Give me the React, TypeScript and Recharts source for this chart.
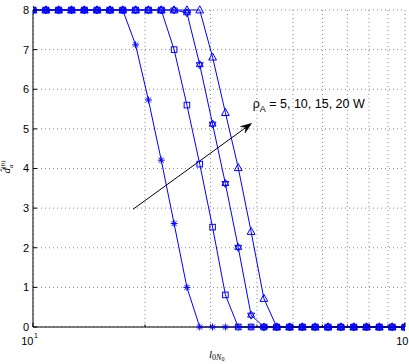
import React from 'react';
import { LineChart, Line, XAxis, YAxis, CartesianGrid, ReferenceLine } from 'recharts';

// x positions: 30 log-spaced points from 10 to 100
const xValues = [
  10, 10.83, 11.72, 12.69, 13.74, 14.87, 16.1, 17.43, 18.87, 20.43,
  22.12, 23.95, 25.93, 28.07, 30.39, 32.9, 35.62, 38.57, 41.75, 45.2,
  48.94, 52.98, 57.36, 62.1, 67.23, 72.79, 78.8, 85.32, 92.37, 100,
];

// rho_A = 5 W (asterisk)
const rho5 = [
  8, 8, 8, 8, 8, 8, 8, 8, 7.12, 5.73,
  4.21, 2.61, 1.0, 0, 0, 0, 0, 0, 0, 0,
  0, 0, 0, 0, 0, 0, 0, 0, 0, 0,
];
// rho_A = 10 W (square)
const rho10 = [
  8, 8, 8, 8, 8, 8, 8, 8, 8, 8,
  8, 7.0, 5.6, 4.11, 2.52, 0.81, 0, 0, 0, 0,
  0, 0, 0, 0, 0, 0, 0, 0, 0, 0,
];
// rho_A = 15 W (hexagram)
const rho15 = [
  8, 8, 8, 8, 8, 8, 8, 8, 8, 8,
  8, 8, 7.93, 6.62, 5.12, 3.62, 2.01, 0.3, 0, 0,
  0, 0, 0, 0, 0, 0, 0, 0, 0, 0,
];
// rho_A = 20 W (triangle)
const rho20 = [
  8, 8, 8, 8, 8, 8, 8, 8, 8, 8,
  8, 8, 8, 8, 6.81, 5.41, 4.02, 2.41, 0.72, 0,
  0, 0, 0, 0, 0, 0, 0, 0, 0, 0,
];

const xTicks = [10, 20, 30, 40, 50, 60, 70, 80, 90, 100];
const yTicks = [0, 1, 2, 3, 4, 5, 6, 7, 8];

// arrow annotation, in data units
const arrowFrom = { x: 18.57, y: 2.97 };
const arrowTo = { x: 38.7, y: 5.14 };

const rows = xValues.map((x, i) => ({
  x,
  rho5: rho5[i],
  rho10: rho10[i],
  rho15: rho15[i],
  rho20: rho20[i],
}));

const BLUE = '#0000ff';
const FONT = '"Liberation Sans", Arial, Helvetica, sans-serif';
const SERIF = '"Liberation Serif", "DejaVu Serif", serif';

const AsteriskDot = (p: any) => {
  const { cx, cy, index } = p;
  const r = 3.5;
  const d = 2.5;
  return (
    <path
      key={`a${index}`}
      d={`M${cx - r},${cy}h${2 * r}M${cx},${cy - r}v${2 * r}M${cx - d},${cy - d}l${2 * d},${2 * d}M${cx - d},${cy + d}l${2 * d},${-2 * d}`}
      stroke={BLUE}
      strokeWidth={1}
      fill="none"
    />
  );
};

const SquareDot = (p: any) => {
  const { cx, cy, index } = p;
  const s = 2.8;
  return <rect key={`s${index}`} x={cx - s} y={cy - s} width={2 * s} height={2 * s} stroke={BLUE} strokeWidth={1} fill="none" />;
};

const HexagramDot = (p: any) => {
  const { cx, cy, index } = p;
  const r = 4;
  const h = r * 0.866;
  const up = `${cx},${cy - r} ${cx + h},${cy + r / 2} ${cx - h},${cy + r / 2}`;
  const down = `${cx},${cy + r} ${cx + h},${cy - r / 2} ${cx - h},${cy - r / 2}`;
  return (
    <g key={`h${index}`}>
      <polygon points={up} stroke={BLUE} strokeWidth={1} fill="none" />
      <polygon points={down} stroke={BLUE} strokeWidth={1} fill="none" />
    </g>
  );
};

const TriangleDot = (p: any) => {
  const { cx, cy, index } = p;
  const pts = `${cx},${cy - 4.2} ${cx + 3.9},${cy + 2.9} ${cx - 3.9},${cy + 2.9}`;
  return <polygon key={`t${index}`} points={pts} stroke={BLUE} strokeWidth={1} fill="none" />;
};

// bottom axis: inward ticks, labels only at decades
const BottomTick = (p: any) => {
  const { x, y, payload } = p;
  const v = payload.value;
  const major = v === 10 || v === 100;
  const shift = v === 100 ? 3.5 : 0.5;
  return (
    <g>
      <line x1={x} y1={y} x2={x} y2={y - (major ? 4 : 2.5)} stroke="#000" />
      {major && (
        <text x={x + shift} y={y + 18} textAnchor="end" fontFamily={FONT} fontSize={11} fill="#000">
          10
        </text>
      )}
      {major && (
        <text x={x + shift + 0.5} y={y + 11} fontFamily={FONT} fontSize={7} fill="#000">
          {v === 10 ? '1' : '2'}
        </text>
      )}
    </g>
  );
};

const TopTick = (p: any) => {
  const { x, y, payload } = p;
  const major = payload.value === 10 || payload.value === 100;
  return <line x1={x} y1={y} x2={x} y2={y + (major ? 4 : 2.5)} stroke="#000" />;
};

const LeftTick = (p: any) => {
  const { x, y, payload } = p;
  return (
    <g>
      <line x1={x} y1={y} x2={x + 4} y2={y} stroke="#000" />
      <text x={x - 4} y={y} dy="0.36em" textAnchor="end" fontFamily={FONT} fontSize={11} fill="#000">
        {payload.value}
      </text>
    </g>
  );
};

const RightTick = (p: any) => {
  const { x, y } = p;
  return <line x1={x} y1={y} x2={x - 4} y2={y} stroke="#000" />;
};

const ArrowShape = (p: any) => {
  const { x1, y1, x2, y2 } = p;
  const len = Math.hypot(x2 - x1, y2 - y1);
  const ux = (x2 - x1) / len;
  const uy = (y2 - y1) / len;
  const nx = -uy;
  const ny = ux;
  const L = 11;
  const W = 4;
  const head = [
    [x2, y2],
    [x2 - L * ux + W * nx, y2 - L * uy + W * ny],
    [x2 - 0.65 * L * ux, y2 - 0.65 * L * uy],
    [x2 - L * ux - W * nx, y2 - L * uy - W * ny],
  ]
    .map((q) => q.join(','))
    .join(' ');
  return (
    <g>
      <line x1={x1} y1={y1} x2={x2 - 0.6 * L * ux} y2={y2 - 0.6 * L * uy} stroke="#000" strokeWidth={1} />
      <polygon points={head} fill="#000" stroke="#000" strokeWidth={0.5} />
      <text x={x2 + 1} y={y2 - 15} fontFamily={FONT} fontSize={12.5} fill="#000">
        ρ
        <tspan fontSize={9} dy={4}>A</tspan>
        <tspan dy={-4}> = 5, 10, 15, 20 W</tspan>
      </text>
    </g>
  );
};

export default function App() {
  return (
    <div style={{ position: 'absolute', left: 0, top: 0, width: 409, height: 364, background: '#fff', overflow: 'hidden' }}>
      <LineChart width={409} height={364} data={rows} margin={{ top: 10, right: 4, bottom: 0, left: 0 }}>
        <CartesianGrid stroke="#8a8a8a" strokeDasharray="1 3" />
        <XAxis
          dataKey="x"
          type="number"
          scale="log"
          domain={[10, 100]}
          ticks={xTicks}
          allowDataOverflow
          height={37}
          tickSize={0}
          tickMargin={0}
          tickLine={false}
          axisLine={{ stroke: '#000' }}
          tick={<BottomTick />}
          interval={0}
        />
        <XAxis
          xAxisId="top"
          orientation="top"
          dataKey="x"
          type="number"
          scale="log"
          domain={[10, 100]}
          ticks={xTicks}
          allowDataOverflow
          height={0}
          tickSize={0}
          tickMargin={0}
          tickLine={false}
          axisLine={{ stroke: '#000' }}
          tick={<TopTick />}
          interval={0}
        />
        <YAxis
          type="number"
          domain={[0, 8]}
          ticks={yTicks}
          width={33}
          tickSize={0}
          tickMargin={0}
          tickLine={false}
          axisLine={{ stroke: '#000' }}
          tick={<LeftTick />}
          interval={0}
        />
        <YAxis
          yAxisId="right"
          orientation="right"
          type="number"
          domain={[0, 8]}
          ticks={yTicks}
          width={0}
          tickSize={0}
          tickMargin={0}
          tickLine={false}
          axisLine={{ stroke: '#000' }}
          tick={<RightTick />}
          interval={0}
        />
        <Line dataKey="rho5" stroke={BLUE} strokeWidth={1} dot={AsteriskDot} isAnimationActive={false} />
        <Line dataKey="rho10" stroke={BLUE} strokeWidth={1} dot={SquareDot} isAnimationActive={false} />
        <Line dataKey="rho15" stroke={BLUE} strokeWidth={1} dot={HexagramDot} isAnimationActive={false} />
        <Line dataKey="rho20" stroke={BLUE} strokeWidth={1} dot={TriangleDot} isAnimationActive={false} />
        <ReferenceLine segment={[arrowFrom, arrowTo]} shape={ArrowShape} ifOverflow="visible" />
      </LineChart>
      <svg width={409} height={364} style={{ position: 'absolute', left: 0, top: 0, pointerEvents: 'none' }}>
        <text
          x={10}
          y={167}
          transform="rotate(-90 10 167)"
          textAnchor="middle"
          fontFamily={SERIF}
          fontStyle="italic"
          fontSize={11}
          fill="#000"
        >
          d̂
          <tspan fontSize={7} dy={3}>a</tspan>
          <tspan fontSize={7} dx={-4} dy={-8} fontStyle="normal">(0)</tspan>
        </text>
        <text x={209} y={358} fontFamily={SERIF} fontStyle="italic" fontSize={11} fill="#000">
          l
          <tspan fontSize={8} dy={2}>
            <tspan fontStyle="normal">0</tspan>N
          </tspan>
          <tspan fontSize={6} dy={1} fontStyle="normal">0</tspan>
        </text>
      </svg>
    </div>
  );
}
